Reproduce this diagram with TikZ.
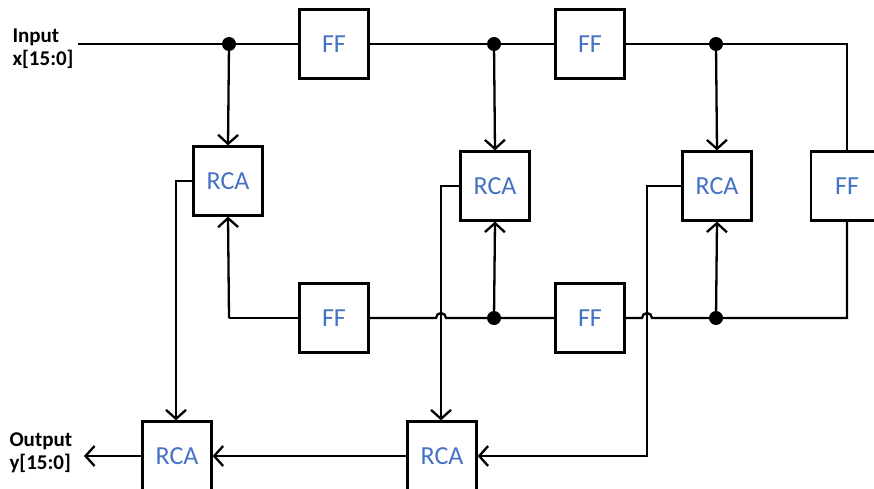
\documentclass[tikz,border=0pt]{standalone}
\usepackage{fontspec}
\setmainfont{Carlito}
\usetikzlibrary{arrows.meta}
\definecolor{boxtext}{HTML}{4472C4}
\tikzset{
  wire/.style={line width=2.3pt, line join=miter},
  arr/.style={wire, -{Straight Barb[length=9pt,width=20pt,line width=2.3pt]}},
  blk/.style={draw, line width=2.2pt, fill=white, minimum width=69pt, minimum height=69pt,
    inner sep=0pt, text=boxtext, font=\fontsize{26}{26}\selectfont},
  dot/.style={circle, fill=black, inner sep=0pt, minimum size=14pt},
  lbl/.style={font=\fontsize{21}{23}\selectfont\bfseries, align=left, anchor=west}
}
\begin{document}
\begin{tikzpicture}[x=1pt,y=-1pt]
\useasboundingbox (0,0) rectangle (874,489);
\clip (0,0) rectangle (874,489);

% labels
\node[lbl] (in) at (9,49) {Input\\x[15:0]};
\node[lbl] (out) at (6,453) {Output\\y[15:0]};

% registers
\node[blk] (ff1) at (334,44) {FF};
\node[blk] (ff2) at (590,44) {FF};
\node[blk] (ff3) at (334,318) {FF};
\node[blk] (ff4) at (590,318) {FF};
\node[blk, minimum width=72pt] (ff5) at (847,186) {FF};

% adders
\node[blk] (r1) at (228,181) {RCA};
\node[blk] (r2) at (495,186) {RCA};
\node[blk] (r3) at (717,186) {RCA};
\node[blk] (r5) at (177,456) {RCA};
\node[blk] (r6) at (442,456) {RCA};

% tap points
\coordinate (inend) at (78,44);
\coordinate (t1) at (229,44);
\coordinate (t2) at (494,44);
\coordinate (t3) at (716,44);
\coordinate (b1) at (229,318);
\coordinate (b2) at (494,318);
\coordinate (b3) at (716,318);
\coordinate (tr) at (847,44);
\coordinate (br) at (847,318);

% top delay line
\draw[wire] (inend) -- (ff1.west);
\draw[wire] (ff1.east) -- (ff2.west);
\draw[wire] (ff2.east) -- (tr) -- (ff5.north);

% bottom delay line, hopping over the adder-tree wires
\draw[wire] (ff5.south) -- (br) -- (b3) -- (652,318) arc (360:180:5) -- (ff4.east);
\draw[wire] (ff4.west) -- (b2) -- (446,318) arc (360:180:5) -- (ff3.east);
\draw[wire] (ff3.west) -- (b1);
\draw[arr] (b1) -- (r1.south);

% taps into adders
\draw[arr] (t1) -- (r1.north);
\draw[arr] (t2) -- (r2.north);
\draw[arr] (t3) -- (r3.north);
\draw[arr] (b2) -- (r2.south);
\draw[arr] (b3) -- (r3.south);

% adder tree
\draw[arr] (r1.west) -- (176,181) -- (r5.north -| 176,0);
\draw[arr] (r2.west) -- (441,186) -- (r6.north -| 441,0);
\draw[arr] (r3.west) -- (647,186) -- (647,456) -- (r6.east);
\draw[arr] (r6.west) -- (r5.east);
\draw[arr] (r5.west) -- (84,456);

\node[dot] at (t1) {};
\node[dot] at (t2) {};
\node[dot] at (t3) {};
\node[dot] at (b2) {};
\node[dot] at (b3) {};
\end{tikzpicture}
\end{document}
